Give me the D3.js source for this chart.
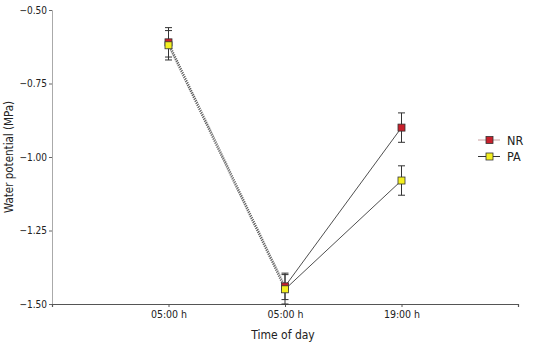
<!DOCTYPE html>
<html>
<head>
<meta charset="utf-8">
<script src="https://cdn.jsdelivr.net/npm/d3@7"></script>
<style>
body { margin: 0; background: #fff; }
text { font-family: "DejaVu Sans Condensed", "Liberation Sans Narrow", "Liberation Sans", sans-serif; font-stretch: condensed; fill: #222; }
</style>
</head>
<body>
<div id="chart"></div>
<script>
var times = ["05:00 h", "05:00 h", "19:00 h"];
var seriesNames = ["NR", "PA"];
var nrValues = [-0.61, -1.44, -0.90];
var nrErrors = [0.05, 0.045, 0.05];
var paValues = [-0.62, -1.45, -1.08];
var paErrors = [0.05, 0.05, 0.05];
var yTicks = [-0.50, -0.75, -1.00, -1.25, -1.50];

var colors = { NR: "#c8202c", PA: "#f4f020" };

var svg = d3.select("#chart").append("svg")
    .attr("width", 548).attr("height", 345);

var x = d3.scaleLinear().domain([0, 4]).range([52, 518]);
var y = d3.scaleLinear().domain([-1.5, -0.5]).range([304, 10]);

// y axis
var yAxis = svg.append("g").attr("transform", "translate(52,0)")
    .call(d3.axisLeft(y).tickValues(yTicks).tickSize(3).tickFormat(d3.format(".2f")));
yAxis.select(".domain").attr("stroke", "#aaa");
yAxis.selectAll(".tick line").attr("stroke", "#666");
yAxis.selectAll(".tick text").style("font-size", "10px").attr("x", -5);

// x axis
var xAxis = svg.append("g").attr("transform", "translate(0,304)")
    .call(d3.axisBottom(x).tickValues([0, 1, 2, 3, 4]).tickSize(3)
        .tickFormat(function (d) { return (d >= 1 && d <= 3) ? times[d - 1] : ""; }));
xAxis.select(".domain").attr("stroke", "#555").attr("stroke-width", 1.2);
xAxis.selectAll(".tick line").attr("stroke", "#555");
xAxis.selectAll(".tick text").style("font-size", "10.5px").attr("y", 7);

svg.append("text").attr("x", 283).attr("y", 339).attr("text-anchor", "middle")
    .style("font-size", "12px").text("Time of day");
svg.append("text").attr("transform", "translate(13,157) rotate(-90)")
    .attr("text-anchor", "middle").style("font-size", "11.5px").text("Water potential (MPa)");

var series = [
    { name: "NR", values: nrValues, errors: nrErrors },
    { name: "PA", values: paValues, errors: paErrors }
];

var line = d3.line()
    .x(function (d, i) { return x(i + 1); })
    .y(function (d) { return d; });

series.forEach(function (s) {
    var pts = s.values.map(function (v) { return y(v); });
    // first segment drawn hatched
    svg.append("path")
        .attr("d", line([pts[0], pts[1]]))
        .attr("fill", "none").attr("stroke", "#666").attr("stroke-width", 1.6)
        .attr("stroke-dasharray", "1.2,1");
    svg.append("path")
        .attr("d", d3.line()([[x(2), pts[1]], [x(3), pts[2]]]))
        .attr("fill", "none").attr("stroke", "#222").attr("stroke-width", 0.8);
});

// error bars
series.forEach(function (s) {
    s.values.forEach(function (v, i) {
        var cx = x(i + 1);
        var g = svg.append("g").attr("stroke", "#333").attr("stroke-width", 1);
        g.append("line").attr("x1", cx).attr("x2", cx)
            .attr("y1", y(v + s.errors[i])).attr("y2", y(v - s.errors[i]));
        g.append("line").attr("x1", cx - 3.5).attr("x2", cx + 3.5)
            .attr("y1", y(v + s.errors[i])).attr("y2", y(v + s.errors[i]));
        g.append("line").attr("x1", cx - 3.5).attr("x2", cx + 3.5)
            .attr("y1", y(v - s.errors[i])).attr("y2", y(v - s.errors[i]));
    });
});

// markers
series.forEach(function (s) {
    svg.selectAll(".m" + s.name).data(s.values).enter().append("rect")
        .attr("x", function (d, i) { return x(i + 1) - 3.5; })
        .attr("y", function (d) { return y(d) - 3.5; })
        .attr("width", 7).attr("height", 7)
        .attr("fill", colors[s.name]).attr("stroke", "#333").attr("stroke-width", 0.8);
});

// legend
var legend = svg.append("g").attr("transform", "translate(478,140)");
seriesNames.forEach(function (n, i) {
    var g = legend.append("g").attr("transform", "translate(0," + (i * 16.5) + ")");
    g.append("line").attr("x1", 0).attr("x2", 22).attr("y1", 0).attr("y2", 0)
        .attr("stroke", n === "NR" ? "#c9a0a0" : "#333").attr("stroke-width", 1);
    g.append("rect").attr("x", 8).attr("y", -3.5).attr("width", 7).attr("height", 7)
        .attr("fill", colors[n]).attr("stroke", "#333").attr("stroke-width", 0.8);
    g.append("text").attr("x", 29).attr("y", 4.5).style("font-size", "12.5px").text(n);
});
</script>
</body>
</html>
